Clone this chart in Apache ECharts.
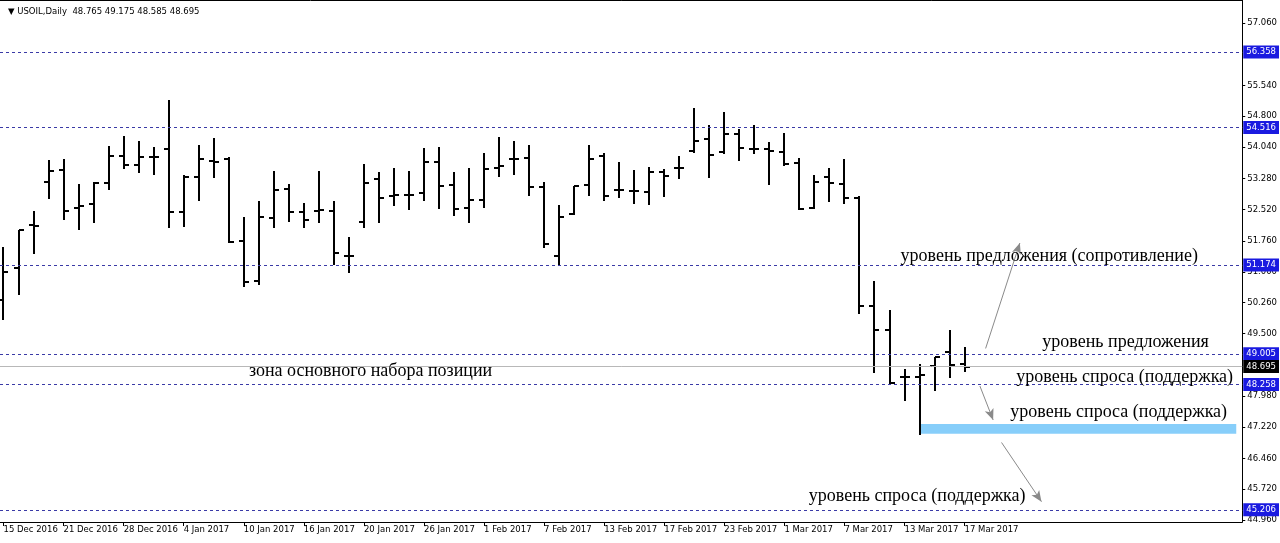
<!DOCTYPE html>
<html>
<head>
<meta charset="utf-8">
<script src="https://cdn.jsdelivr.net/npm/echarts@6/dist/echarts.min.js"></script>
<style>
html,body{margin:0;padding:0;background:#fff;}
#chart{width:1280px;height:543px;}
</style>
</head>
<body>
<div id="chart"></div>
<script>
// ---- data ----
const dates = [
 '15 Dec 2016','16 Dec 2016','19 Dec 2016','20 Dec 2016','21 Dec 2016','22 Dec 2016','23 Dec 2016','27 Dec 2016',
 '28 Dec 2016','29 Dec 2016','30 Dec 2016','3 Jan 2017','4 Jan 2017','5 Jan 2017','6 Jan 2017','9 Jan 2017',
 '10 Jan 2017','11 Jan 2017','12 Jan 2017','13 Jan 2017','16 Jan 2017','17 Jan 2017','18 Jan 2017','19 Jan 2017',
 '20 Jan 2017','23 Jan 2017','24 Jan 2017','25 Jan 2017','26 Jan 2017','27 Jan 2017','30 Jan 2017','31 Jan 2017',
 '1 Feb 2017','2 Feb 2017','3 Feb 2017','6 Feb 2017','7 Feb 2017','8 Feb 2017','9 Feb 2017','10 Feb 2017',
 '13 Feb 2017','14 Feb 2017','15 Feb 2017','16 Feb 2017','17 Feb 2017','20 Feb 2017','21 Feb 2017','22 Feb 2017',
 '23 Feb 2017','24 Feb 2017','27 Feb 2017','28 Feb 2017','1 Mar 2017','2 Mar 2017','3 Mar 2017','6 Mar 2017',
 '7 Mar 2017','8 Mar 2017','9 Mar 2017','10 Mar 2017','13 Mar 2017','14 Mar 2017','15 Mar 2017','16 Mar 2017',
 '17 Mar 2017'
];
const opens = [50.32,51.11,52.15,53.19,53.48,52.55,52.66,53.16,53.83,53.60,
 53.81,54.00,52.47,53.32,53.70,53.75,51.76,50.79,52.32,53.01,
 52.45,52.49,52.49,51.39,52.23,53.26,52.85,52.88,52.93,53.69,
 53.12,52.57,52.75,53.53,53.75,53.77,53.08,51.39,52.41,53.12,
 53.83,53.00,52.98,52.96,53.44,53.53,53.95,54.23,53.92,54.35,
 54.00,54.00,53.93,53.65,52.55,53.31,53.14,52.80,50.17,49.59,
 48.45,48.45,48.71,49.06,48.765];
const highs = [51.60,52.02,52.49,53.73,53.75,53.14,53.19,54.07,54.32,54.19,
 54.04,55.19,53.36,54.09,54.27,53.80,52.33,52.74,53.47,53.14,
 52.69,53.47,52.74,51.86,53.63,53.43,53.53,53.46,54.03,54.05,
 53.44,53.53,53.89,54.30,54.19,54.09,53.19,52.63,53.10,54.09,
 53.91,53.69,53.48,53.55,53.50,53.83,55.00,54.58,54.89,54.48,
 54.58,54.17,54.38,53.77,53.36,53.53,53.75,52.85,50.79,50.08,
 48.63,48.75,48.94,49.59,49.175];
const lows = [49.85,50.47,51.47,52.80,52.29,52.04,52.23,53.01,53.54,53.43,
 53.38,52.09,52.12,52.75,53.31,51.74,50.67,50.72,52.09,52.25,
 52.10,52.21,51.19,50.99,52.09,52.21,52.63,52.53,52.75,52.55,
 52.39,52.21,52.59,53.34,53.38,52.88,51.60,51.20,52.41,52.88,
 52.75,52.83,52.69,52.65,52.85,53.30,53.93,53.31,53.89,53.73,
 53.91,53.14,53.61,52.53,52.55,52.74,52.69,50.01,48.57,48.31,
 47.88,47.06,48.13,48.44,48.585];
const closes = [51.00,52.02,52.12,53.47,52.49,52.62,53.18,53.83,53.61,53.81,
 53.81,52.47,53.32,53.75,53.67,51.74,50.75,52.35,53.00,52.47,
 52.27,52.51,51.47,51.39,53.16,52.81,52.87,52.88,53.69,53.10,
 52.53,52.75,53.51,53.59,53.75,53.08,51.68,52.35,53.10,53.75,
 52.85,53.00,52.98,53.44,53.34,53.54,54.20,53.85,54.35,54.01,
 54.00,53.95,53.63,52.53,53.20,53.16,52.80,50.17,49.59,48.31,
 48.45,48.49,48.94,48.74,48.695];
const levels = [56.358, 54.516, 51.174, 49.005, 48.258, 45.206];
const priceTicks = [57.06,55.54,54.80,54.04,53.28,52.52,51.76,51.00,50.26,49.50,47.98,47.22,46.46,45.72,44.96];
const dateTickIdx = [0,4,8,12,16,20,24,28,32,36,40,44,48,52,56,60,64];
const symbolName = 'USOIL,Daily';
const annotations = [
  {name:'уровень предложения (сопротивление)', at:[59.70, 51.39]},
  {name:'уровень предложения', at:[69.14, 49.30]},
  {name:'зона основного набора позиции', at:[16.31, 48.59]},
  {name:'уровень спроса (поддержка)', at:[67.41, 48.44]},
  {name:'уровень спроса (поддержка)', at:[67.01, 47.59]},
  {name:'уровень спроса (поддержка)', at:[53.59, 45.55]}
];
const arrows = [
  [[65.40, 49.14],[67.68, 51.707]],
  [[65.02, 48.225],[65.90, 47.40]],
  [[66.46, 46.85],[69.12, 45.41]],
  [[65.88, 57.80],[65.88, 57.52]]
];
const zoneBox = [[61, 47.30],[82.09, 47.06]];

// ---- chart ----
const n = closes.length;
const last = n - 1;
const ohlc = opens.map((o,i)=>[i, o, highs[i], lows[i], closes[i]]);
const f3 = v => Number(v).toFixed(3);
const LEVEL_LINE = '#3a3aa6';
const LEVEL_BG = '#1a1ae0';
const axisFont = {fontFamily:'DejaVu Sans', fontSize:8.5, color:'#000'};
const X_MIN = -0.2326, X_MAX = 82.49;

const chart = echarts.init(document.getElementById('chart'), null, {renderer:'canvas'});

const levelLines = levels.map(v => ({
  yAxis: v, name: f3(v),
  lineStyle: {color: LEVEL_LINE, type:[3,3], width:1},
  label: {backgroundColor: LEVEL_BG, color:'#fff'}
}));
levelLines.push({
  yAxis: closes[last], name: f3(closes[last]),
  lineStyle: {color:'#b8b8b8', type:'solid', width:1},
  label: {backgroundColor:'#000', color:'#fff'}
});

const arrowLines = arrows.map(a => [
  {coord:a[0], symbol:'none', lineStyle:{color:'#8a8a8a', type:'solid', width:1}, label:{show:false}},
  {coord:a[1], symbol:'arrow', symbolSize:[7,11]}
]);

chart.setOption({
  animation:false,
  backgroundColor:'#fff',
  title:{
    text:'\u25BC ' + symbolName + '  ' + f3(opens[last]) + ' ' + f3(highs[last]) + ' ' + f3(lows[last]) + ' ' + f3(closes[last]),
    left:3, top:2,
    textStyle:{fontFamily:'DejaVu Sans', fontSize:8.5, fontWeight:'normal', color:'#000'}
  },
  grid:{left:0, right:37, top:0, bottom:21, show:false},
  xAxis:[{
    type:'value', min:X_MIN, max:X_MAX,
    splitLine:{show:false},
    axisLine:{show:true, onZero:false, lineStyle:{color:'#000', width:1}},
    axisTick:{show:true, customValues:dateTickIdx, length:4, lineStyle:{color:'#000'}},
    axisLabel:{customValues:dateTickIdx, formatter:v => dates[Math.round(v)] || '', align:'left', margin:3, ...axisFont}
  },{
    type:'value', min:X_MIN, max:X_MAX, position:'top',
    splitLine:{show:false},
    axisLine:{show:true, onZero:false, lineStyle:{color:'#000', width:1}},
    axisTick:{show:false}, axisLabel:{show:false}
  }],
  yAxis:{
    type:'value', position:'right', min:44.914, max:57.624, scale:true,
    splitLine:{show:false},
    axisLine:{show:true, onZero:false, lineStyle:{color:'#000', width:1}},
    axisTick:{show:true, customValues:priceTicks, length:3, lineStyle:{color:'#000'}},
    axisLabel:{customValues:priceTicks, formatter:v => f3(v), margin:5, ...axisFont}
  },
  series:[
    {
      type:'custom',
      name:'USOIL',
      xAxisIndex:0, yAxisIndex:0,
      data: ohlc,
      encode:{x:0, y:[1,2,3,4]},
      clip:true,
      renderItem:(params, api) => {
        const x = api.value(0);
        const o = api.coord([x, api.value(1)]);
        const h = api.coord([x, api.value(2)]);
        const l = api.coord([x, api.value(3)]);
        const c = api.coord([x, api.value(4)]);
        const cx = Math.round(h[0]);
        const st = {stroke:'#000', lineWidth:2};
        return {type:'group', children:[
          {type:'line', shape:{x1:cx, y1:Math.round(h[1]), x2:cx, y2:Math.round(l[1])+1}, style:st},
          {type:'line', shape:{x1:cx-5, y1:Math.round(o[1]), x2:cx, y2:Math.round(o[1])}, style:st},
          {type:'line', shape:{x1:cx, y1:Math.round(c[1]), x2:cx+5, y2:Math.round(c[1])}, style:st}
        ]};
      },
      markLine:{
        silent:true,
        symbol:['none','none'],
        label:{show:true, position:'end', distance:1, formatter:p => p.name,
               padding:[2,3,2,3], fontFamily:'DejaVu Sans', fontSize:8.5},
        data: levelLines.concat(arrowLines)
      },
      markArea:{
        silent:true,
        itemStyle:{color:'#87cefa'},
        data:[[{coord:zoneBox[0]},{coord:zoneBox[1]}]]
      },
      markPoint:{
        silent:true,
        symbol:'circle', symbolSize:1,
        itemStyle:{color:'rgba(0,0,0,0)'},
        label:{show:true, position:'right', distance:0, formatter:p => p.name,
               fontFamily:'Liberation Serif', fontSize:18, color:'#000'},
        data: annotations.map(a => ({name:a.name, coord:a.at}))
      }
    }
  ]
});
</script>
</body>
</html>
